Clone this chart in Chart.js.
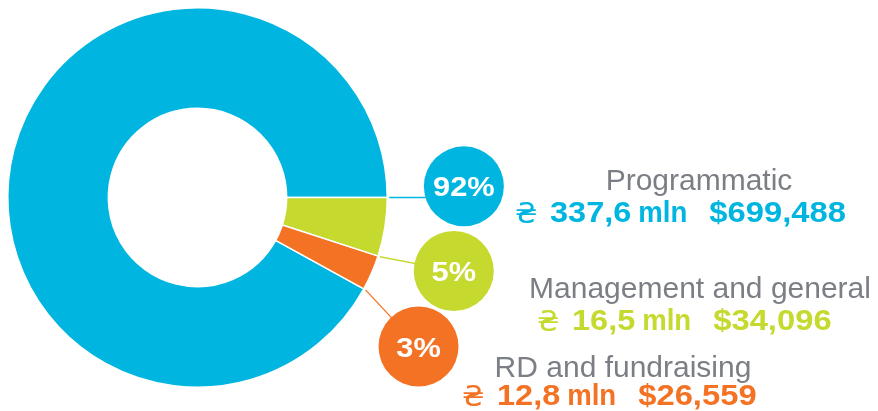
<!DOCTYPE html>
<html>
<head>
<meta charset="utf-8">
<script src="https://cdn.jsdelivr.net/npm/chart.js@4.4.1/dist/chart.umd.min.js"></script>
<style>
html, body { margin: 0; padding: 0; background: #fff; }
#wrap { width: 878px; height: 411px; position: relative; }
</style>
</head>
<body>
<div id="wrap"><canvas id="costChart"></canvas></div>
<script>
// Data
const categories = ['Programmatic', 'Management and general', 'RD and fundraising'];
const shares = [92, 5, 3];
const uahAmounts = ['337,6', '16,5', '12,8'];
const uahUnit = 'mln';
const usdAmounts = ['$699,488', '$34,096', '$26,559'];
const sliceColors = ['#00b6e0', '#c5d92e', '#f37224'];

const total = shares.reduce((a, b) => a + b, 0);
// first slice ends exactly at 3 o'clock
const startRotation = 90 - 360 * shares[0] / total;

// callout bubbles: angle (deg from 3 o'clock, clockwise) and distance in outer radii
const bubbleAngles = [-2.4, 16, 34];
const bubbleDist = 1.405;
const bubbleRadius = 40;
// text blocks: label centre x / baseline, value row start x / baseline
const labelPos = [[699, 190], [700, 298], [623, 377]];
const rowPos = [[515, 222], [537, 330], [462, 405]];

const FONT = '"Liberation Sans", Arial, Helvetica, sans-serif';

// wide numerals: draw horizontally stretched text, return its width
function wideText(ctx, str, x, y, sx) {
    ctx.save();
    ctx.translate(x, y);
    ctx.scale(sx, 1);
    ctx.fillText(str, 0, 0);
    ctx.restore();
    return ctx.measureText(str).width * sx;
}

const callouts = {
    id: 'callouts',
    afterDatasetsDraw(chart) {
        const ctx = chart.ctx;
        const arcs = chart.getDatasetMeta(0).data;
        ctx.save();
        arcs.forEach((arc, i) => {
            const p = arc.getProps(['x', 'y', 'endAngle', 'outerRadius'], true);
            const a = bubbleAngles[i] * Math.PI / 180;
            const bx = p.x + Math.cos(a) * p.outerRadius * bubbleDist;
            const by = p.y + Math.sin(a) * p.outerRadius * bubbleDist;
            // leader line from the slice edge toward the bubble
            const e = p.endAngle;
            const sx = p.x + Math.cos(e) * (p.outerRadius + 2);
            const sy = p.y + Math.sin(e) * (p.outerRadius + 2);
            let tx = bx, ty = by;
            if (i === 0) { ty = sy; }
            ctx.strokeStyle = sliceColors[i];
            ctx.lineWidth = 1.3;
            ctx.beginPath();
            ctx.moveTo(sx, sy);
            ctx.lineTo(tx, ty);
            ctx.stroke();
            // bubble
            ctx.fillStyle = sliceColors[i];
            ctx.beginPath();
            ctx.arc(bx, by, bubbleRadius, 0, Math.PI * 2);
            ctx.fill();
            ctx.fillStyle = '#fff';
            ctx.font = 'bold 28px ' + FONT;
            ctx.textAlign = 'left';
            ctx.textBaseline = 'alphabetic';
            const pct = shares[i] + '%';
            const w = ctx.measureText(pct).width * 1.1;
            wideText(ctx, pct, bx - w / 2, by + 10, 1.1);

            // category label
            ctx.textAlign = 'center';
            ctx.fillStyle = '#7b7f85';
            ctx.font = '30px ' + FONT;
            ctx.fillText(categories[i], labelPos[i][0], labelPos[i][1]);

            // value row
            ctx.textAlign = 'left';
            ctx.fillStyle = sliceColors[i];
            let x = rowPos[i][0];
            const y = rowPos[i][1];
            ctx.font = '29px "DejaVu Sans", sans-serif';
            ctx.fillText('\u20B4', x, y + 1);
            x += 35;
            ctx.font = 'bold 29px ' + FONT;
            x += wideText(ctx, uahAmounts[i], x, y, 1.12) + 7;
            x += wideText(ctx, uahUnit, x, y, 0.95) + 22;
            wideText(ctx, usdAmounts[i], x, y, 1.13);
        });
        ctx.restore();
    }
};

const chart = new Chart(document.getElementById('costChart'), {
    type: 'doughnut',
    data: {
        labels: categories,
        datasets: [{
            data: shares,
            backgroundColor: sliceColors,
            borderColor: '#fff',
            borderWidth: 1.5,
            hoverOffset: 0
        }]
    },
    options: {
        responsive: true,
        maintainAspectRatio: false,
        animation: false,
        rotation: startRotation,
        cutout: '47%',
        layout: { padding: { left: 7, top: 7, right: 490, bottom: 23 } },
        plugins: {
            legend: { display: false },
            tooltip: { enabled: false }
        }
    },
    plugins: [callouts]
});
</script>
</body>
</html>
